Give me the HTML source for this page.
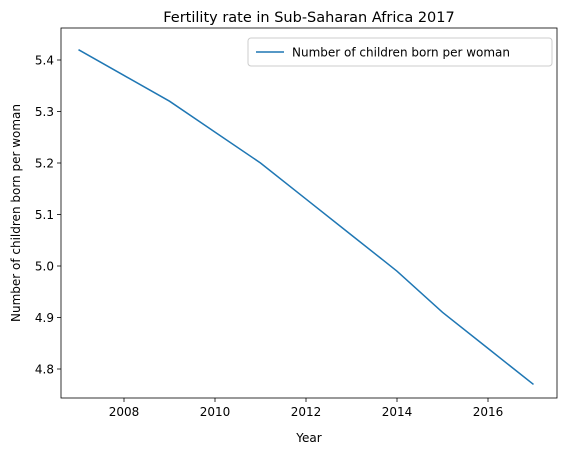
<!DOCTYPE html>
<html><head><meta charset="utf-8"><style>body{margin:0;background:#fff}text{font-family:"DejaVu Sans","Liberation Sans",sans-serif}</style></head>
<body>
<svg id="chart" width="567" height="455" xmlns="http://www.w3.org/2000/svg">
<rect width="567" height="455" fill="#fff"/>
<text x="309" y="22" font-size="14.5" text-anchor="middle" fill="#000">Fertility rate in Sub-Saharan Africa 2017</text>
<g id="axes"></g>
<text x="309" y="442" font-size="12" text-anchor="middle">Year</text>
<text transform="translate(20,213) rotate(-90)" font-size="12" text-anchor="middle">Number of children born per woman</text>
<g>
<rect x="248" y="38" width="304" height="28" rx="3" fill="#fff" stroke="#ccc"/>
<line x1="256" y1="52" x2="284" y2="52" stroke="#1f77b4" stroke-width="1.5"/>
<text x="292" y="56.5" font-size="12">Number of children born per woman</text>
</g>
</svg>
<script>
const years=[2007,2008,2009,2010,2011,2012,2013,2014,2015,2016,2017];
const values=[5.42,5.37,5.32,5.26,5.20,5.13,5.06,4.99,4.91,4.84,4.77];
const xTicks=[2008,2010,2012,2014,2016];
const yTicks=[4.8,4.9,5.0,5.1,5.2,5.3,5.4];
const L=61,R=557,T=28,B=398;
const x=v=>78.5+(v-2007)*45.5;
const y=v=>60+(5.4-v)*515;
const NS="http://www.w3.org/2000/svg";
const g=document.getElementById('axes');
function mk(t,a){const e=document.createElementNS(NS,t);for(const k in a)e.setAttribute(k,a[k]);g.appendChild(e);return e;}
const fr=mk('rect',{x:L,y:T,width:R-L,height:B-T,fill:'none',stroke:'#000','stroke-width':0.8});


xTicks.forEach(v=>{const l=mk('line',{x1:x(v),x2:x(v),y1:B,y2:B+4,stroke:'#000','stroke-width':0.8});


const t=mk('text',{x:x(v),y:B+18,'font-size':12,'text-anchor':'middle'});t.textContent=v;

});
yTicks.forEach(v=>{const l=mk('line',{x1:L-4,x2:L,y1:y(v),y2:y(v),stroke:'#000','stroke-width':0.8});


const t=mk('text',{x:L-7,y:y(v)+4.5,'font-size':12,'text-anchor':'end'});t.textContent=v.toFixed(1);

});
const p=mk('polyline',{points:years.map((yr,i)=>x(yr)+','+y(values[i])).join(' '),fill:'none',stroke:'#1f77b4','stroke-width':1.5});


</script>
</body></html>
